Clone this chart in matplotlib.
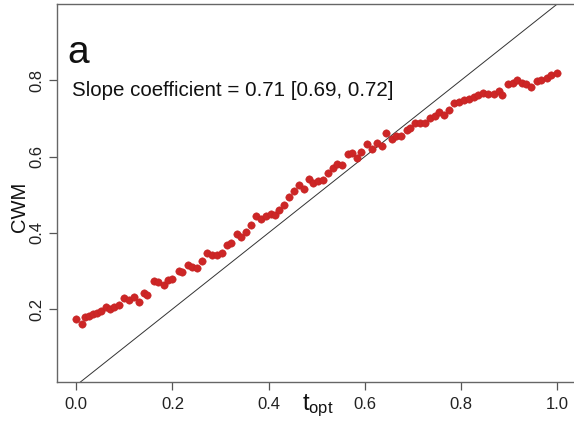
import matplotlib
matplotlib.use("Agg")
import matplotlib.pyplot as plt

# values
T_OPT = [0.000, 0.011, 0.019, 0.027, 0.035, 0.044, 0.051, 0.062, 0.070, 0.079,
         0.089, 0.100, 0.110, 0.121, 0.131, 0.141, 0.148, 0.162, 0.170, 0.183,
         0.191, 0.200, 0.214, 0.220, 0.233, 0.241, 0.252, 0.262, 0.272, 0.283,
         0.293, 0.303, 0.313, 0.322, 0.334, 0.342, 0.353, 0.364, 0.374, 0.384,
         0.394, 0.405, 0.414, 0.422, 0.432, 0.443, 0.452, 0.464, 0.473, 0.484,
         0.493, 0.502, 0.512, 0.524, 0.533, 0.543, 0.552, 0.564, 0.573, 0.584,
         0.593, 0.604, 0.614, 0.625, 0.635, 0.645, 0.656, 0.665, 0.675, 0.688,
         0.694, 0.705, 0.715, 0.725, 0.736, 0.746, 0.755, 0.765, 0.775, 0.786,
         0.796, 0.807, 0.817, 0.827, 0.836, 0.846, 0.857, 0.868, 0.878, 0.886,
         0.897, 0.907, 0.917, 0.927, 0.936, 0.945, 0.957, 0.967, 0.978, 0.988,
         1.000]
CWM = [0.174, 0.161, 0.180, 0.182, 0.187, 0.190, 0.195, 0.206, 0.200, 0.206,
       0.210, 0.229, 0.224, 0.232, 0.219, 0.243, 0.237, 0.273, 0.272, 0.262,
       0.276, 0.279, 0.300, 0.297, 0.315, 0.311, 0.308, 0.326, 0.347, 0.341,
       0.341, 0.348, 0.368, 0.374, 0.398, 0.388, 0.403, 0.420, 0.445, 0.435,
       0.444, 0.449, 0.446, 0.460, 0.473, 0.493, 0.510, 0.525, 0.516, 0.540,
       0.530, 0.536, 0.538, 0.556, 0.571, 0.580, 0.577, 0.606, 0.610, 0.595,
       0.612, 0.634, 0.619, 0.636, 0.628, 0.661, 0.646, 0.653, 0.653, 0.669,
       0.674, 0.687, 0.689, 0.688, 0.700, 0.707, 0.716, 0.708, 0.722, 0.740,
       0.743, 0.748, 0.752, 0.757, 0.761, 0.767, 0.763, 0.765, 0.772, 0.761,
       0.790, 0.792, 0.800, 0.793, 0.790, 0.783, 0.798, 0.800, 0.805, 0.813,
       0.818]
X_TICKS = [0.0, 0.2, 0.4, 0.6, 0.8, 1.0]
Y_TICKS = [0.2, 0.4, 0.6, 0.8]
SLOPE_TEXT = "Slope coefficient = 0.71 [0.69, 0.72]"

plt.rcParams['font.family'] = ['Liberation Sans', 'DejaVu Sans']

fig = plt.figure(figsize=(5.74, 4.21), dpi=100)
ax = fig.add_axes([57 / 574, 39.5 / 421, 519.5 / 574, 377.5 / 421])

# 1:1 line
ax.plot([0, 1.1], [0, 1.1], color='#333333', lw=0.7, zorder=1)
ax.scatter(T_OPT, CWM, s=28, color='#CD2626', edgecolors='#C42222',
           linewidths=0.4, zorder=2)

ax.set_xlim(-0.04, 1.04)
ax.set_ylim(0.01, 1.0)
ax.set_xticks(X_TICKS)
ax.set_xticklabels([f"{v:.1f}" for v in X_TICKS])
ax.set_yticks(Y_TICKS)
ax.set_yticklabels([f"{v:.1f}" for v in Y_TICKS], rotation=90, va='center')
ax.tick_params(direction='out', length=6, width=0.9, color='#555555',
               labelsize=12, labelcolor='#222222', pad=5)
ax.tick_params(axis='y', pad=3)

for sp in ax.spines.values():
    sp.set_color('#666666')
    sp.set_linewidth(1.0)
ax.spines['right'].set_visible(False)

ax.text(67 / 574, 1 - 63 / 421, "a", transform=fig.transFigure,
        fontsize=28, color='#111111', ha='left', va='baseline')
ax.text(72 / 574, 1 - 96 / 421, SLOPE_TEXT, transform=fig.transFigure,
        fontsize=14.8, color='#111111', ha='left', va='baseline')

fig.text(20 / 574, 1 - 207 / 421, "CWM", rotation=90, fontsize=14.5,
         ha='center', va='center', color='#111111')
fig.text(318 / 574, 1 - 406 / 421, r"$\mathregular{t_{opt}}$", fontsize=17,
         ha='center', va='center', color='#111111')

fig.savefig("out.png", dpi=100)
